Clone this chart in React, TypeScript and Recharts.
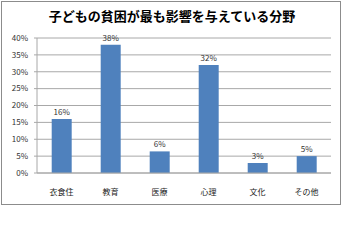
import { BarChart, Bar, XAxis, YAxis, CartesianGrid } from 'recharts';

const categories = ['衣食住', '教育', '医療', '心理', '文化', 'その他'];
const shares = [16, 38, 6.4, 32, 3, 5];
const yTicks = [0, 5, 10, 15, 20, 25, 30, 35, 40];

const data = categories.map((name, i) => ({ name, value: shares[i] }));

const font = '"Noto Sans CJK JP", "Noto Sans", sans-serif';

const renderLabel = (props: any) => {
  const { x, y, width, value } = props;
  return (
    <text
      x={Number(x) + Number(width) / 2}
      y={Number(y) - 4}
      textAnchor="middle"
      fill="#333333"
      fontSize={8}
      fontFamily={font}
    >
      {`${Math.round(Number(value))}%`}
    </text>
  );
};

const App = () => {
  return (
    <div style={{ position: 'absolute', left: 0, top: 0, width: 344, height: 241, background: '#fff', fontFamily: font }}>
      <div
        style={{
          position: 'absolute',
          left: 1,
          top: 1,
          width: 338,
          height: 202,
          border: '1px solid #8c8c8c',
        }}
      />
      <div
        style={{
          position: 'absolute',
          left: 0,
          top: 6,
          width: 344,
          textAlign: 'center',
          fontSize: 13,
          fontWeight: 'bold',
          color: '#000',
        }}
      >
        子どもの貧困が最も影響を与えている分野
      </div>
      <div style={{ position: 'absolute', left: 0, top: 0 }}>
        <BarChart
          width={344}
          height={241}
          data={data}
          margin={{ top: 38, right: 13, left: 7, bottom: 48 }}
          barCategoryGap="30%"
        >
          <CartesianGrid vertical={false} stroke="#a8a8a8" />
          <XAxis
            dataKey="name"
            tickLine={false}
            axisLine={{ stroke: '#a8a8a8' }}
            tick={{ fontSize: 8, fill: '#222', fontFamily: font }}
            tickMargin={10}
            height={20}
            interval={0}
          />
          <YAxis
            domain={[0, 40]}
            ticks={yTicks}
            tickFormatter={(v: number) => `${v}%`}
            width={30}
            axisLine={{ stroke: '#a8a8a8' }}
            tickLine={{ stroke: '#a8a8a8' }}
            tickSize={3}
            tickMargin={6}
            tick={{ fontSize: 8, fill: '#333', fontFamily: font }}
            interval={0}
          />
          <Bar dataKey="value" fill="#4f81bd" isAnimationActive={false} label={renderLabel} />
        </BarChart>
      </div>
    </div>
  );
};

export default App;
